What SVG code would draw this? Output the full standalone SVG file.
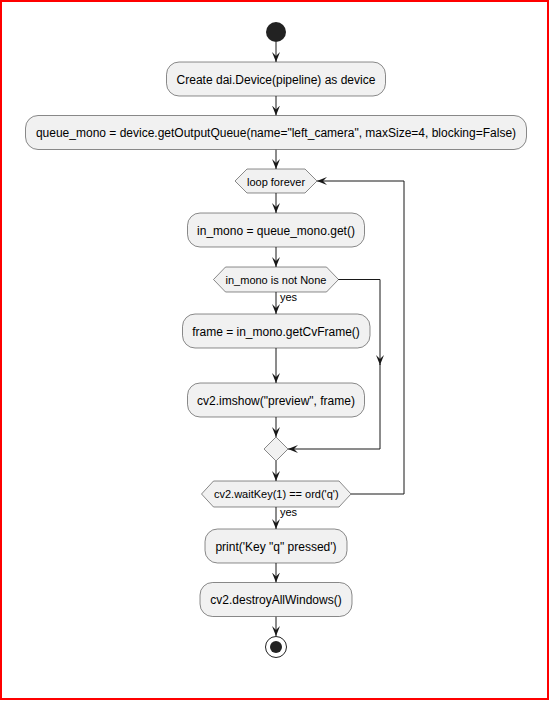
<svg xmlns="http://www.w3.org/2000/svg" width="549" height="701" viewBox="0 0 549 701">
<style>
.box{fill:#F1F1F1;stroke:#181818;stroke-width:0.5}
.t{font-family:"Liberation Sans",Arial,sans-serif;font-size:12px;fill:#000;text-anchor:middle}
.ts{font-family:"Liberation Sans",Arial,sans-serif;font-size:11px;fill:#000;text-anchor:middle}
.lbl{font-family:"Liberation Sans",Arial,sans-serif;font-size:11px;fill:#000}
.c{fill:none;stroke:#181818;stroke-width:1;marker-end:url(#ah)}
</style>
<defs>
<marker id="ah" markerUnits="userSpaceOnUse" markerWidth="10" markerHeight="8" refX="10" refY="4" orient="auto">
<path d="M0,0 L10,4 L0,8 L4,4 Z" fill="#181818"/>
</marker>
</defs>
<rect x="0" y="0" width="549" height="701" fill="#FFFFFF"/>
<rect x="1" y="1" width="547" height="698" fill="none" stroke="#FF0000" stroke-width="2"/>

<g id="connectors">
<path class="c" d="M276,42 L276,62"/>
<path class="c" d="M276,96 L276,115.5"/>
<path class="c" d="M276,149.5 L276,169"/>
<path class="c" d="M276,193 L276,213"/>
<path class="c" d="M276,247 L276,267"/>
<path class="c" d="M276,292 L276,314"/>
<path class="c" d="M276,348 L276,383"/>
<path class="c" d="M276,417 L276,437"/>
<path class="c" d="M338,279.5 L380,279.5 L380,365"/>
<path class="c" d="M380,364 L380,449 L288,449"/>
<path class="c" d="M276,461 L276,481"/>
<path class="c" d="M351,494 L404,494 L404,181 L317,181"/>
<path class="c" d="M276,507 L276,529"/>
<path class="c" d="M276,563 L276,582.5"/>
<path class="c" d="M276,616.5 L276,636"/>
<text class="lbl" x="280" y="300.5">yes</text>
<text class="lbl" x="280" y="515.5">yes</text>
</g>

<g id="start"><circle cx="276" cy="32" r="10" fill="#222222"/></g>

<g id="n1">
<rect class="box" x="166.5" y="62" width="219" height="34" rx="12.5" ry="12.5"/>
<text class="t" x="276" y="83.5">Create dai.Device(pipeline) as device</text>
</g>

<g id="n2">
<rect class="box" x="25.5" y="115.5" width="501" height="34" rx="12.5" ry="12.5"/>
<text class="t" x="276" y="136.5">queue_mono = device.getOutputQueue(name="left_camera", maxSize=4, blocking=False)</text>
</g>

<g id="loop">
<polygon class="box" points="235,181 247,169 305,169 317,181 305,193 247,193"/>
<text class="ts" x="276" y="185.5">loop forever</text>
</g>

<g id="n3">
<rect class="box" x="187.5" y="213" width="177" height="34" rx="12.5" ry="12.5"/>
<text class="t" x="276" y="234.5">in_mono = queue_mono.get()</text>
</g>

<g id="if1">
<polygon class="box" points="213.5,279.5 225.5,267 326.5,267 338.5,279.5 326.5,292 225.5,292"/>
<text class="ts" x="276" y="283.5">in_mono is not None</text>
</g>

<g id="n4">
<rect class="box" x="182.5" y="314" width="187.5" height="34" rx="12.5" ry="12.5"/>
<text class="t" x="276" y="335.5">frame = in_mono.getCvFrame()</text>
</g>

<g id="n5">
<rect class="box" x="187.5" y="383" width="177" height="34" rx="12.5" ry="12.5"/>
<text class="t" x="276" y="404.5">cv2.imshow("preview", frame)</text>
</g>

<g id="merge">
<polygon class="box" points="276,437 288,449 276,461 264,449"/>
</g>

<g id="until">
<polygon class="box" points="201.5,494 213.5,481 339,481 351,494 339,507 213.5,507"/>
<text class="ts" x="276.3" y="498">cv2.waitKey(1) == ord('q')</text>
</g>

<g id="n6">
<rect class="box" x="205" y="529" width="142" height="34" rx="12.5" ry="12.5"/>
<text class="t" x="276" y="550.5">print('Key "q" pressed')</text>
</g>

<g id="n7">
<rect class="box" x="200" y="582.5" width="152" height="34" rx="12.5" ry="12.5"/>
<text class="t" x="276" y="604">cv2.destroyAllWindows()</text>
</g>

<g id="end">
<circle cx="276" cy="647" r="10.5" fill="none" stroke="#222222" stroke-width="1"/>
<circle cx="276" cy="647" r="6" fill="#222222"/>
</g>
</svg>
